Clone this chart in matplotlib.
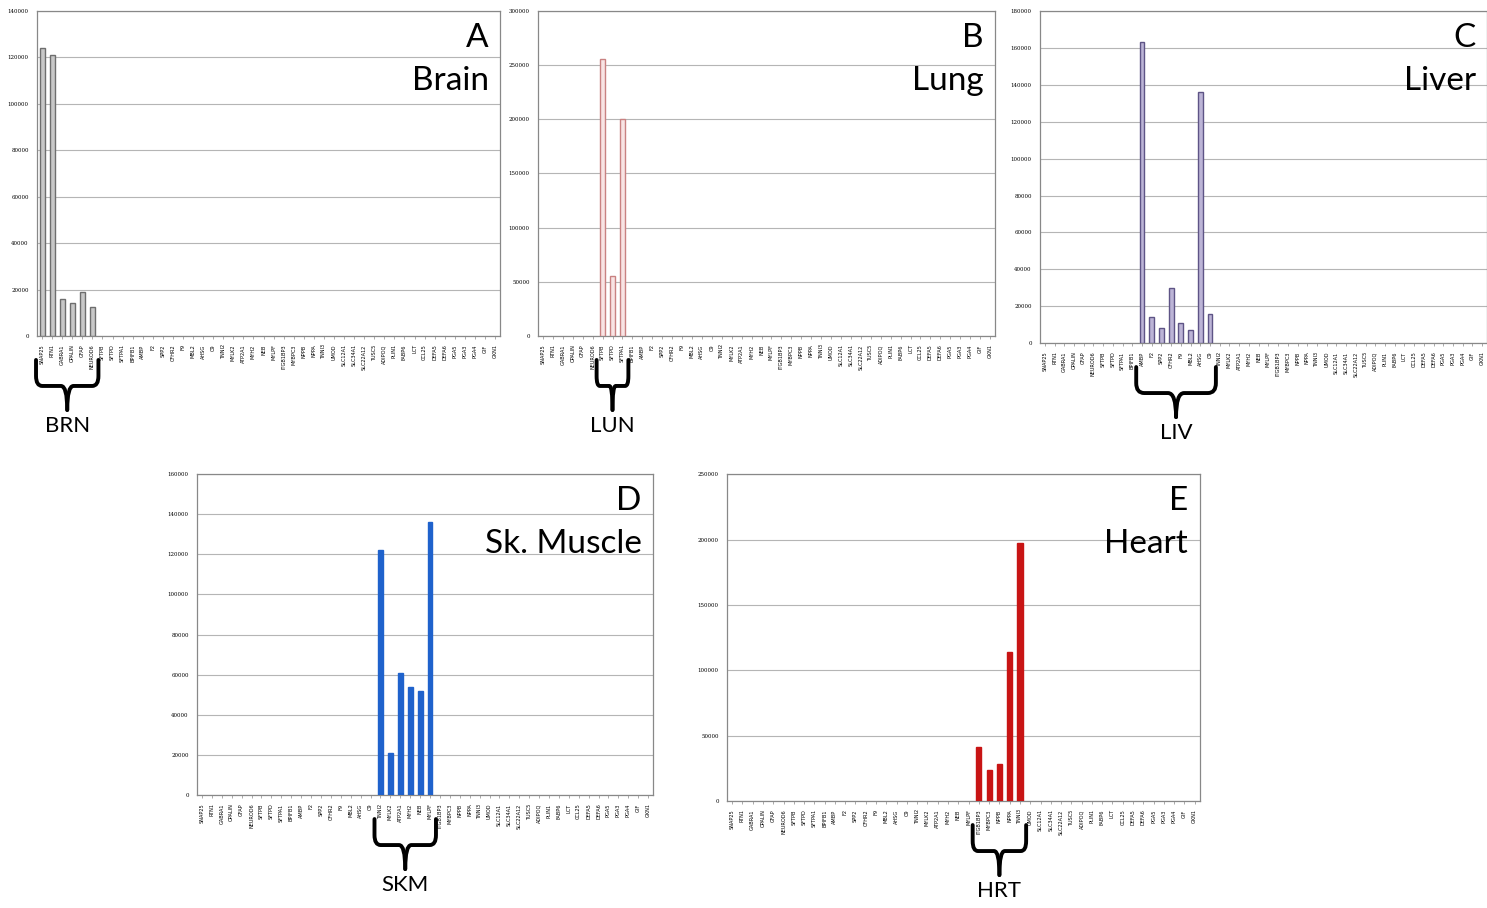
import numpy as np
import matplotlib.pyplot as plt
import matplotlib.transforms as mtransforms
from matplotlib.path import Path
from matplotlib.patches import PathPatch

genes = ['SNAP25', 'RTN1', 'GABRA1', 'OPALIN', 'GFAP', 'NEUROD6', 'SFTPB', 'SFTPD',
         'SFTPA1', 'BPIFB1', 'AMBP', 'F2', 'SPP2', 'CFHR2', 'F9', 'MBL2', 'AHSG', 'C9',
         'TNNI2', 'MYLK2', 'ATP2A1', 'MYH2', 'NEB', 'MYLPF', 'ITGB1BP3', 'MYBPC3', 'NPPB',
         'NPPA', 'TNNI3', 'UMOD', 'SLC12A1', 'SLC34A1', 'SLC22A12', 'TUSC5', 'ADIPOQ',
         'PLIN1', 'FABP6', 'LCT', 'CCL25', 'DEFA5', 'DEFA6', 'PGA5', 'PGA3', 'PGA4',
         'GIF', 'GKN1']

# expressed genes per tissue (others are ~0)
brain_genes = ['SNAP25', 'RTN1', 'GABRA1', 'OPALIN', 'GFAP', 'NEUROD6']
brain_vals = [124000, 121000, 16000, 14000, 19000, 12500]

lung_genes = ['SFTPB', 'SFTPD', 'SFTPA1']
lung_vals = [256000, 55000, 200000]

liver_genes = ['AMBP', 'F2', 'SPP2', 'CFHR2', 'F9', 'MBL2', 'AHSG', 'C9']
liver_vals = [163000, 14000, 8000, 30000, 11000, 7000, 136000, 16000]

muscle_genes = ['TNNI2', 'MYLK2', 'ATP2A1', 'MYH2', 'NEB', 'MYLPF']
muscle_vals = [122000, 21000, 61000, 54000, 52000, 136000]

heart_genes = ['ITGB1BP3', 'MYBPC3', 'NPPB', 'NPPA', 'TNNI3']
heart_vals = [41000, 24000, 28000, 114000, 197000]

panels = [
    # letter, tissue, abbrev, genes, values, ymax, ystep, face, edge, rect
    ('A', 'Brain', 'BRN', brain_genes, brain_vals, 140000, 20000, '#c8c8c8', '#6e6e6e',
     [0.0249, 0.630, 0.3114, 0.358]),
    ('B', 'Lung', 'LUN', lung_genes, lung_vals, 300000, 50000, '#f8e4e4', '#c98282',
     [0.3618, 0.630, 0.3073, 0.358]),
    ('C', 'Liver', 'LIV', liver_genes, liver_vals, 180000, 20000, '#bcb4d6', '#5e5486',
     [0.6994, 0.6222, 0.3006, 0.3656]),
    ('D', 'Sk. Muscle', 'SKM', muscle_genes, muscle_vals, 160000, 20000, '#1f62cc', '#1f62cc',
     [0.1325, 0.1244, 0.3067, 0.3535]),
    ('E', 'Heart', 'HRT', heart_genes, heart_vals, 250000, 50000, '#c81414', '#c81414',
     [0.4889, 0.1178, 0.318, 0.360]),
]

fig = plt.figure(figsize=(14.87, 9.08), dpi=100)
x = np.arange(len(genes))

for letter, tissue, abbrev, g_list, v_list, ymax, ystep, face, edge, rect in panels:
    ax = fig.add_axes(rect)
    vals = np.zeros(len(genes))
    for g, v in zip(g_list, v_list):
        vals[genes.index(g)] = v
    lw = [1.0 if v > 0 else 0 for v in vals]
    ax.bar(x, vals, width=0.5, color=face, edgecolor=edge, linewidth=lw, zorder=3)
    ax.set_xlim(-0.5, len(genes) - 0.5)
    ax.set_ylim(0, ymax)
    ticks = np.arange(0, ymax + 1, ystep)
    ax.set_yticks(ticks)
    ax.set_yticklabels([str(int(t)) for t in ticks], fontsize=4, family='DejaVu Serif')
    ax.set_xticks(x)
    ax.set_xticklabels(genes, rotation=90, fontsize=3.6)
    ax.tick_params(axis='y', length=0, pad=6)
    ax.tick_params(axis='x', length=2, width=0.5, color='#888888', pad=4)
    ax.grid(axis='y', color='#b5b5b5', linewidth=0.8, zorder=0)
    for s in ax.spines.values():
        s.set_color('#888888')
        s.set_linewidth(0.9)

    h = ax.get_position().height * 908
    ax.text(0.975, 1 - 12 / h, letter, transform=ax.transAxes, ha='right', va='top',
            fontsize=24, family='Lato')
    ax.text(0.975, 1 - 55 / h, tissue, transform=ax.transAxes, ha='right', va='top',
            fontsize=24, family='Lato')

    # curly brace under the tissue-specific gene group
    i0 = genes.index(g_list[0]) - 0.6
    i1 = genes.index(g_list[-1]) + 0.6
    im = (i0 + i1) / 2
    trans = mtransforms.blended_transform_factory(ax.transData, ax.transAxes)
    y_top = -24 / h
    y_mid = -50 / h
    y_tip = -74 / h
    e = 10 / h
    d = (i1 - i0) * 0.1
    for side in (-1, 1):
        xe = i0 if side < 0 else i1
        dd = d if side < 0 else -d
        verts = [(xe, y_top), (xe, y_mid + e), (xe, y_mid), (xe + dd, y_mid),
                 (im - dd, y_mid), (im, y_mid), (im, y_tip)]
        codes = [Path.MOVETO, Path.LINETO, Path.CURVE3, Path.CURVE3,
                 Path.LINETO, Path.CURVE3, Path.CURVE3]
        ax.add_patch(PathPatch(Path(verts, codes), transform=trans, fill=False,
                               lw=2.8, color='black', clip_on=False,
                               capstyle='round', joinstyle='round'))
    ax.text(im, y_tip - 6 / h, abbrev, transform=trans, ha='center', va='top',
            fontsize=16, family='Lato')

fig.savefig('out.png', dpi=100)
